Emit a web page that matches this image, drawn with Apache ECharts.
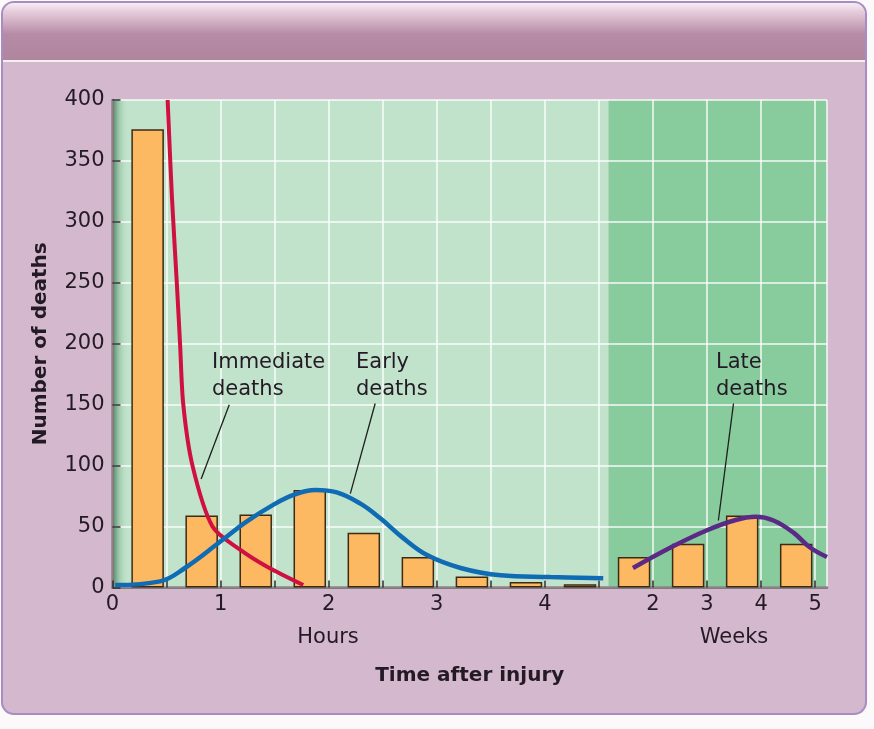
<!DOCTYPE html>
<html>
<head>
<meta charset="utf-8">
<script src="https://cdn.jsdelivr.net/npm/echarts@6/dist/echarts.min.js"></script>
<style>
html,body{margin:0;padding:0;background:#fbf9fa;}
#c{width:874px;height:729px;}
</style>
</head>
<body>
<div id="c"></div>
<script>
// ---- data ----
// hour bins (start of each half-hour bin, hours)
const hourBinStart = [0, 0.5, 1, 1.5, 2, 2.5, 3, 3.5, 4];
const hourDeaths   = [376, 59, 60, 80, 45, 25, 9, 4.5, 2.6];
// week bins (start week of each bin)
const weekBinStart = [1, 2, 3, 4];
const weekDeaths   = [25, 36, 59, 36];
// curves: [hours, deaths] and [weeks, deaths]
const immediateCurve = [[0.51,400],[0.55,320],[0.595,250],[0.625,200],[0.655,150],[0.74,100],[0.925,50],[1.18,31],[1.43,17],[1.765,2]];
const earlyCurve = [[0.025,2],[0.44,5],[0.67,16],[0.995,37.5],[1.24,54],[1.49,68],[1.675,76],[1.875,80],[2.075,78],[2.29,69],[2.475,57],[2.69,40.5],[2.91,26.6],[3.22,16],[3.59,10],[4.05,8.6],[4.54,7.5]];
const lateCurve = [[1.63,16],[2.38,34],[3.0,47],[3.5,55],[3.9,58],[4.23,55],[4.6,45],[4.9,33],[5.22,25]];
// tick labels
const hourTicks = [0, 1, 2, 3, 4];
const weekTicks = [2, 3, 4, 5];
const yTicks = [0, 50, 100, 150, 200, 250, 300, 350, 400];

// ---- axis mapping: one shared axis in half-hour cells ----
const hToU = h => h * 2;          // 1 hour = 2 cells
const wToU = w => w + 8;          // week section: week w at cell w+8
const U_MAX = 13.22;
const LATE_START = 9.18;          // start of weeks section
const BAR_OFFSET = 0.65;          // bar center inside its cell

const barData = hourBinStart.map((h, i) => [hToU(h) + BAR_OFFSET, hourDeaths[i]])
  .concat(weekBinStart.map((w, i) => [wToU(w) + BAR_OFFSET, weekDeaths[i]]));

const labelMap = {};
hourTicks.forEach(h => labelMap[hToU(h)] = String(h));
weekTicks.forEach(w => labelMap[wToU(w)] = String(w));

const FONT = 'DejaVu Sans';
const TXT = '#231a26';

const chart = echarts.init(document.getElementById('c'));
chart.setOption({
  backgroundColor: 'transparent',
  animation: false,
  textStyle: {fontFamily: FONT},
  grid: {left: 112.5, top: 100, width: 714.5, height: 487.5, containLabel: false},
  xAxis: [{
    type: 'value', min: 0, max: U_MAX, interval: 1, z: 2,
    name: 'Time after injury', nameLocation: 'middle', nameGap: 78,
    nameTextStyle: {fontFamily: FONT, fontWeight: 'bold', fontSize: 20, color: TXT},
    axisLine: {show: true, onZero: false, lineStyle: {color: '#2b2b2b', width: 1.5}},
    axisTick: {show: true, inside: true, length: 7, lineStyle: {color: '#2b2b2b', width: 1.5}},
    axisLabel: {show: true, showMaxLabel: false, margin: 7, fontFamily: FONT, fontSize: 21, color: TXT,
      formatter: v => (labelMap[v] !== undefined ? labelMap[v] : '')},
    splitLine: {show: true, lineStyle: {color: 'rgba(255,255,255,0.9)', width: 1.5}}
  }, {
    type: 'value', min: 0, max: U_MAX, position: 'top', z: 2,
    axisLine: {show: true, lineStyle: {color: '#8e8488', width: 2.5}},
    axisTick: {show: false}, axisLabel: {show: false}, splitLine: {show: false}
  }],
  yAxis: [{
    type: 'value', min: 0, max: 400, interval: 50, z: 2,
    name: 'Number of deaths', nameLocation: 'middle', nameGap: 62,
    nameTextStyle: {fontFamily: FONT, fontWeight: 'bold', fontSize: 20, color: TXT},
    axisLine: {show: true, lineStyle: {color: '#2b2b2b', width: 1.5}},
    axisTick: {show: true, inside: true, length: 8, lineStyle: {color: '#2b2b2b', width: 1.5}},
    axisLabel: {margin: 8, fontFamily: FONT, fontSize: 21, color: TXT,
      formatter: v => (yTicks.indexOf(v) >= 0 ? String(v) : '')},
    splitLine: {show: true, lineStyle: {color: 'rgba(255,255,255,0.9)', width: 1.5}}
  }, {
    type: 'value', min: 0, max: 400, position: 'right', z: 2,
    axisLine: {show: true, lineStyle: {color: '#8e8488', width: 2.5}},
    axisTick: {show: false}, axisLabel: {show: false}, splitLine: {show: false}
  }],
  graphic: [
    {type: 'rect', z: -10, silent: true, shape: {x: 2, y: 2, width: 864, height: 712, r: 12},
      style: {fill: '#d4b8cd', stroke: '#a98cc2', lineWidth: 2}},
    {type: 'rect', z: -9, silent: true, shape: {x: 3, y: 3, width: 862, height: 57, r: [11, 11, 0, 0]},
      style: {fill: {type: 'linear', x: 0, y: 0, x2: 0, y2: 1, colorStops: [
        {offset: 0, color: '#f7eef4'}, {offset: 0.15, color: '#e6cddc'},
        {offset: 0.55, color: '#b58ba5'}, {offset: 1, color: '#b0869f'}]}}},
    {type: 'rect', z: -9, silent: true, shape: {x: 3, y: 60, width: 862, height: 2}, style: {fill: '#f6eef3'}},
    {type: 'text', z: 50, left: 212, top: 349, style: {text: 'Immediate\ndeaths', font: '21px "DejaVu Sans"', fill: TXT, lineHeight: 27}},
    {type: 'text', z: 50, left: 356, top: 349, style: {text: 'Early\ndeaths', font: '21px "DejaVu Sans"', fill: TXT, lineHeight: 27}},
    {type: 'text', z: 50, left: 716, top: 349, style: {text: 'Late\ndeaths', font: '21px "DejaVu Sans"', fill: TXT, lineHeight: 27}},
    {type: 'text', z: 50, x: 328, y: 638, style: {text: 'Hours', font: '21px "DejaVu Sans"', fill: TXT, textAlign: 'center', textVerticalAlign: 'middle'}},
    {type: 'text', z: 50, x: 734, y: 638, style: {text: 'Weeks', font: '21px "DejaVu Sans"', fill: TXT, textAlign: 'center', textVerticalAlign: 'middle'}}
  ],
  series: [
    {
      type: 'line', z: 1, data: [[0, 0]], showSymbol: false, lineStyle: {width: 0}, silent: true,
      markArea: {silent: true, data: [
        [{xAxis: 0, yAxis: 0, itemStyle: {color: '#c2e3cb'}}, {xAxis: LATE_START, yAxis: 400}],
        [{xAxis: LATE_START, yAxis: 0, itemStyle: {color: '#88cc9e'}}, {xAxis: U_MAX, yAxis: 400}],
        [{xAxis: 0, yAxis: 0, itemStyle: {color: {type: 'linear', x: 0, y: 0, x2: 1, y2: 0, colorStops: [
          {offset: 0, color: 'rgba(40,95,65,0.75)'}, {offset: 0.45, color: 'rgba(90,150,110,0.3)'}, {offset: 1, color: 'rgba(194,227,203,0)'}]}}},
         {xAxis: 0.3, yAxis: 400}]
      ]}
    },
    {
      type: 'bar', z: 3, data: barData, barWidth: 32.5,
      itemStyle: {color: '#fdb862', borderColor: '#3c2a17', borderWidth: 1.5}
    },
    {
      type: 'line', z: 4, data: immediateCurve.map(p => [hToU(p[0]), p[1]]), smooth: 0.3,
      showSymbol: false, lineStyle: {color: '#cf1040', width: 4}
    },
    {
      type: 'line', z: 4, data: earlyCurve.map(p => [hToU(p[0]), p[1]]), smooth: 0.4,
      showSymbol: false, lineStyle: {color: '#0f6bb3', width: 4.5},
      markLine: {silent: true, symbol: 'none', label: {show: false}, lineStyle: {color: '#1e1e1e', width: 1.3, type: 'solid'},
        data: [
          [{coord: [hToU(1.08), 150]}, {coord: [hToU(0.82), 89]}],
          [{coord: [hToU(2.43), 151]}, {coord: [hToU(2.2), 77]}]
        ]}
    },
    {
      type: 'line', z: 4, data: lateCurve.map(p => [wToU(p[0]), p[1]]), smooth: 0.4,
      showSymbol: false, lineStyle: {color: '#5a2a86', width: 4.5},
      markLine: {silent: true, symbol: 'none', label: {show: false}, lineStyle: {color: '#1e1e1e', width: 1.3, type: 'solid'},
        data: [
          [{coord: [wToU(3.49), 151]}, {coord: [wToU(3.21), 55]}]
        ]}
    }
  ]
});
</script>
</body>
</html>
